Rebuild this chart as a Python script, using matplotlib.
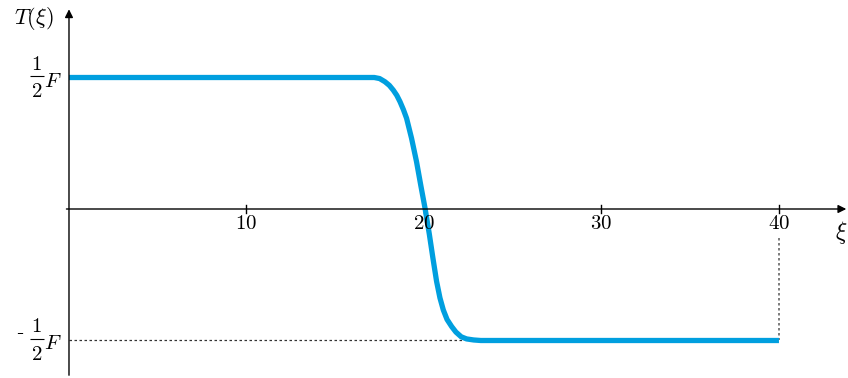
import numpy as np
import matplotlib.pyplot as plt
from matplotlib.transforms import offset_copy

plt.rcParams['mathtext.fontset'] = 'cm'
plt.rcParams['font.family'] = 'serif'
plt.rcParams['font.serif'] = ['DejaVu Serif']

# 应力分布曲线（读取的点）
xi = [0, 17.2, 17.5, 17.8, 18.05, 18.27, 18.47, 18.65, 18.84, 19.02, 19.3, 19.58, 19.82,
      20.06, 20.3, 20.5, 20.71, 20.9, 21.09, 21.3, 21.56, 21.8, 22.1, 22.4, 22.8, 23.2, 40]
T = [0.5, 0.5, 0.496, 0.484, 0.47, 0.452, 0.432, 0.408, 0.378, 0.345, 0.269, 0.18, 0.09,
     0.003, -0.095, -0.185, -0.275, -0.338, -0.384, -0.42, -0.447, -0.468, -0.486, -0.494, -0.498, -0.5, -0.5]

xticks = [10, 20, 30, 40]
yticks = [0.5, -0.5]
ytick_signs = ['', '-']

fig = plt.figure(figsize=(8.48, 3.78), dpi=100)
ax = fig.add_axes([0, 0, 1, 1])
ax.set_xlim(-3.887, 43.89)
ax.set_ylim(-0.6426, 0.7947)
ax.axis('off')

# 坐标轴
ax.annotate('', xy=(43.95, 0), xytext=(-0.3, 0), annotation_clip=False,
            arrowprops=dict(arrowstyle='-|>', color='black', lw=1.0, mutation_scale=12))
ax.annotate('', xy=(0, 0.77), xytext=(0, -0.6426), annotation_clip=False,
            arrowprops=dict(arrowstyle='-|>', color='black', lw=1.0, mutation_scale=12))

for t in xticks:
    ax.plot([t, t], [-0.015, 0.015], color='black', lw=1.0)
    ax.text(t, -0.02, f'${t}$', ha='center', va='top', fontsize=15)


def pix(x, y, dx, dy):
    # 以像素为单位偏移的变换
    return offset_copy(ax.transData, fig=fig, x=dx, y=dy, units='dots')


# y轴刻度：±(1/2)F，分数手动排版
for v, sign in zip(yticks, ytick_signs):
    ax.text(0, v, '$1$', transform=pix(0, v, -32.5, 8), ha='center', va='baseline', fontsize=15)
    ax.text(0, v, '$2$', transform=pix(0, v, -32.5, -19.5), ha='center', va='baseline', fontsize=15)
    ax.plot(0, v, marker='_', markersize=9.5, mew=0.8, color='black',
            transform=pix(0, v, -32, 1.3))
    ax.text(0, v, '$F$', transform=pix(0, v, -24.5, -9), ha='left', va='baseline', fontsize=15)
    if sign:
        ax.text(0, v, sign, transform=pix(0, v, -49.5, 1), ha='center', va='baseline', fontsize=15)

ax.text(-1.95, 0.726, r'$T(\xi)$', ha='center', va='center', fontsize=16)
ax.text(43.5, -0.09, r'$\xi$', ha='center', va='center', fontsize=17)

# 辅助虚线
ax.plot([0, 22.2], [-0.5, -0.5], color='#333333', lw=0.9, ls=(0, (2, 2)))
ax.plot([40, 40], [-0.11, -0.5], color='#666666', lw=1.2, ls=(0, (1.5, 1.5)))

ax.plot(xi, T, color='#009FDF', lw=3.8, solid_capstyle='butt', solid_joinstyle='round')

fig.savefig('out.png', dpi=100)
